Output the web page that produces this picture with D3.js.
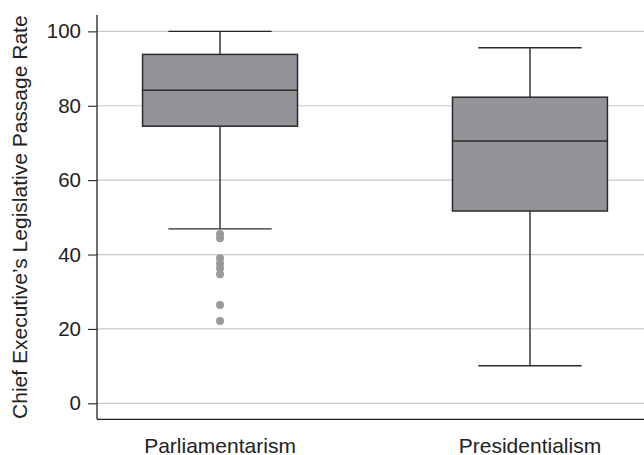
<!DOCTYPE html>
<html>
<head>
<meta charset="utf-8">
<script src="https://cdn.jsdelivr.net/npm/d3@7"></script>
<style>
  html, body { margin: 0; padding: 0; background: #fff; }
  svg { display: block; }
  text { font-family: "Liberation Sans", Arial, Helvetica, sans-serif; fill: #222; }
</style>
</head>
<body>
<svg id="chart" width="644" height="455"></svg>
<script>
// Regime types on the x axis
const categories = ["Parliamentarism", "Presidentialism"];
// Box-plot summaries per regime: [lower whisker, Q1, median, Q3, upper whisker]
const whiskerLow  = [46.9, 10.1];
const quartile1   = [74.5, 51.7];
const medians     = [84.2, 70.5];
const quartile3   = [93.8, 82.3];
const whiskerHigh = [100.0, 95.6];
// Outlying observations (parliamentary systems only)
const outliersParliamentarism = [45.5, 44.4, 39.0, 37.6, 36.3, 34.7, 26.4, 22.1];
const outliersPresidentialism = [];
const yTicks = [0, 20, 40, 60, 80, 100];
const yTitle = "Chief Executive’s Legislative Passage Rate";

const svg = d3.select("#chart");
const plotLeft = 97, plotTop = 15, plotBottom = 419.3, plotRight = 644;

const x = d3.scalePoint().domain(categories).range([plotLeft, 653]).padding(0.397);
const step = x.step();
const y = d3.scaleLinear().domain([-4.3, 104.4]).range([plotBottom, plotTop]);

// Horizontal grid lines
svg.append("g").selectAll("line").data(yTicks).join("line")
  .attr("x1", plotLeft).attr("x2", plotRight)
  .attr("y1", d => y(d)).attr("y2", d => y(d))
  .attr("stroke", "#c9c9c9").attr("stroke-width", 1.2);

// Y axis
const yAxis = svg.append("g").attr("transform", `translate(${plotLeft},0)`)
  .call(d3.axisLeft(y).tickValues(yTicks).tickSize(9).tickPadding(7));
yAxis.select(".domain").attr("d", `M0,${plotTop}V${plotBottom}`).attr("stroke", "#222").attr("stroke-width", 1.3);
yAxis.selectAll(".tick line").attr("stroke", "#222").attr("stroke-width", 1.1);
yAxis.selectAll(".tick text").attr("font-size", 20.5).attr("fill", "#222")
  .attr("font-family", "Liberation Sans, Arial, sans-serif");

// X axis baseline and category labels
svg.append("line").attr("x1", plotLeft).attr("x2", plotRight)
  .attr("y1", plotBottom).attr("y2", plotBottom)
  .attr("stroke", "#222").attr("stroke-width", 1.3);
svg.append("g").selectAll("text").data(categories).join("text")
  .attr("x", d => x(d)).attr("y", 452.5)
  .attr("text-anchor", "middle").attr("font-size", 21)
  .text(d => d);

// Y axis title
svg.append("text")
  .attr("transform", `translate(27,${(plotTop + plotBottom) / 2}) rotate(-90)`)
  .attr("text-anchor", "middle").attr("font-size", 21)
  .text(yTitle);

// Boxes
const stats = categories.map((c, i) => ({
  cat: c, lo: whiskerLow[i], q1: quartile1[i], med: medians[i], q3: quartile3[i], hi: whiskerHigh[i]
}));
const boxW = step * 0.5, capW = step / 3;
const stroke = "#2a2a2a";

const g = svg.append("g").selectAll("g").data(stats).join("g");
// Whisker stems
g.append("line")
  .attr("x1", d => x(d.cat)).attr("x2", d => x(d.cat))
  .attr("y1", d => y(d.hi)).attr("y2", d => y(d.lo))
  .attr("stroke", stroke).attr("stroke-width", 1.4);
// Whisker caps
["hi", "lo"].forEach(k => {
  g.append("line")
    .attr("x1", d => x(d.cat) - capW / 2).attr("x2", d => x(d.cat) + capW / 2)
    .attr("y1", d => y(d[k])).attr("y2", d => y(d[k]))
    .attr("stroke", stroke).attr("stroke-width", 1.4);
});
// Interquartile box
g.append("rect")
  .attr("x", d => x(d.cat) - boxW / 2).attr("width", boxW)
  .attr("y", d => y(d.q3)).attr("height", d => y(d.q1) - y(d.q3))
  .attr("fill", "#939498").attr("stroke", stroke).attr("stroke-width", 1.5);
// Median line
g.append("line")
  .attr("x1", d => x(d.cat) - boxW / 2).attr("x2", d => x(d.cat) + boxW / 2)
  .attr("y1", d => y(d.med)).attr("y2", d => y(d.med))
  .attr("stroke", stroke).attr("stroke-width", 1.5);

// Outliers
const outliers = [
  ...outliersParliamentarism.map(v => ({ cat: categories[0], v })),
  ...outliersPresidentialism.map(v => ({ cat: categories[1], v }))
];
svg.append("g").selectAll("circle").data(outliers).join("circle")
  .attr("cx", d => x(d.cat)).attr("cy", d => y(d.v)).attr("r", 4)
  .attr("fill", "#999a9d");
</script>
</body>
</html>
